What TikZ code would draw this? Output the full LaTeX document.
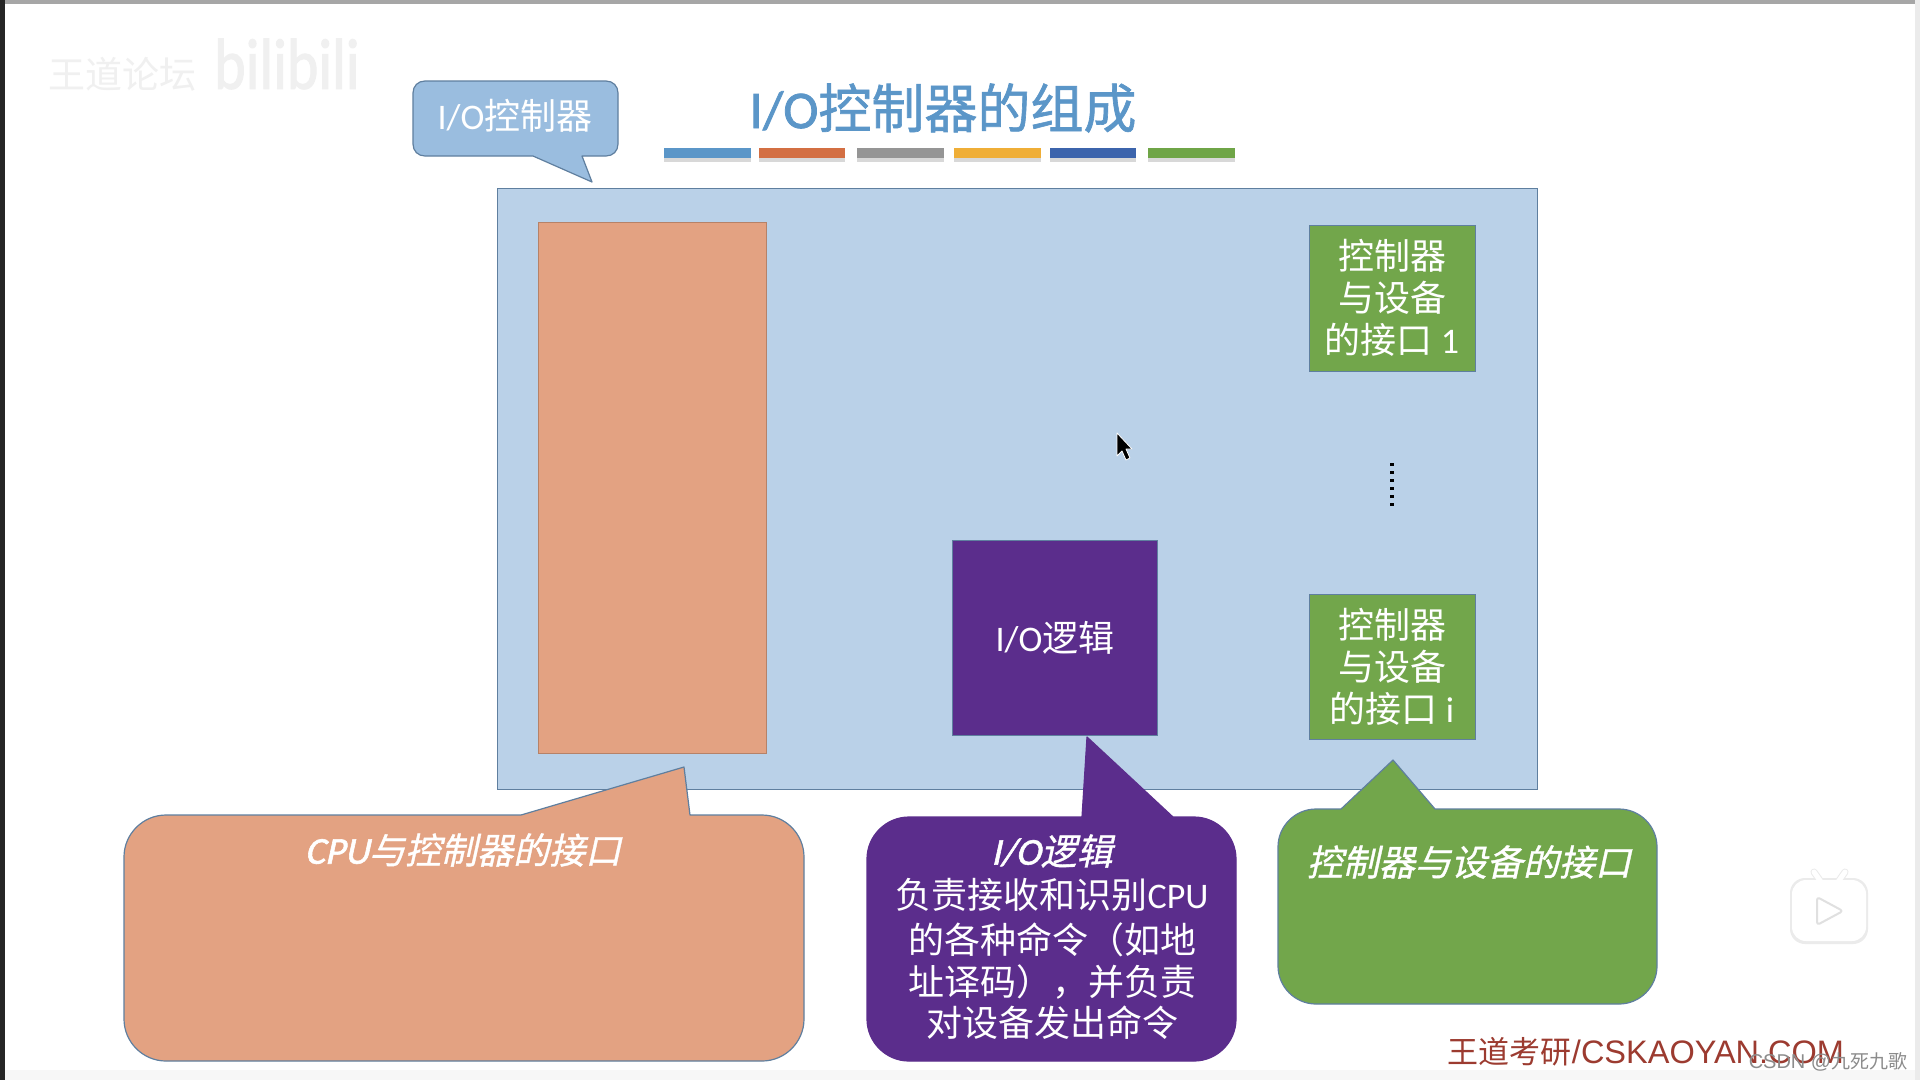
\documentclass[tikz,border=0pt]{standalone}
\usepackage{fontspec}
\setmainfont{Carlito}
\newfontfamily\cjk{Noto Sans CJK SC}
\newfontfamily\cjkt[FakeBold=1.2]{Noto Sans CJK SC}
\newfontfamily\cjki[FakeSlant=0.22,FakeBold=1]{Noto Sans CJK SC}
\newfontfamily\lati[FakeSlant=0.22,FakeBold=1.5]{Carlito}
\newfontfamily\latb[FakeBold=1.5]{Carlito}
\newfontfamily\arial{Liberation Sans}
\usetikzlibrary{shadows}
\definecolor{blueBG}{HTML}{BAD1E8}
\definecolor{blueEdge}{HTML}{5F7F9F}
\definecolor{calloutBlue}{HTML}{9ABDDF}
\definecolor{orangeF}{HTML}{E3A282}
\definecolor{purpleF}{HTML}{5B2D8C}
\definecolor{greenF}{HTML}{72A64B}
\definecolor{titleC}{HTML}{5B96C8}
\definecolor{footC}{HTML}{9C3B30}
\newcommand{\fs}[2]{\fontsize{#1}{#2}\selectfont}
% callout: style, left, top, right, bottom, radius, tail start x, tip, tail end x
\newcommand{\speech}[9]{%
  \pgfmathsetmacro{\rc}{#6}\pgfmathsetmacro{\kc}{0.45*#6}%
  \draw[#1] (#7,#3) -- (#8) -- (#9,#3) -- ({#4-\rc},#3)
    .. controls ({#4-\kc},#3) and (#4,{#3+\kc}) .. (#4,{#3+\rc})
    -- (#4,{#5-\rc})
    .. controls (#4,{#5-\kc}) and ({#4-\kc},#5) .. ({#4-\rc},#5)
    -- ({#2+\rc},#5)
    .. controls ({#2+\kc},#5) and (#2,{#5-\kc}) .. (#2,{#5-\rc})
    -- (#2,{#3+\rc})
    .. controls (#2,{#3+\kc}) and ({#2+\kc},#3) .. ({#2+\rc},#3)
    -- cycle;}
\tikzset{
  x=1pt,y=-1pt,
  every node/.style={inner sep=0pt,outer sep=0pt,text=white,align=center},
  panel/.style={draw=blueEdge,line width=1pt},
  callout/.style={draw=blueEdge,line width=1.2pt,line join=round},
  bar/.style={line width=0pt,drop shadow={shadow xshift=0pt,shadow yshift=-4pt,opacity=0.25,fill=black!60}},
  body/.style={font=\cjk\fs{36}{42}},
}
\begin{document}
\begin{tikzpicture}
\useasboundingbox (0,0) rectangle (1920,1080);
\fill[white] (0,0) rectangle (1920,1080);
\fill[black!3] (0,1070) rectangle (1920,1080);
\fill[black!35] (0,0) rectangle (1920,4);
\fill[black!85] (0,0) rectangle (5,1080);
\fill[black!8] (1915,0) rectangle (1920,1080);

% watermark
\node[text=black!6,font=\cjk\fs{37}{37}] (wm1) at (122,74) {王道论坛};
\node[text=black!6,font=\latb\fs{60}{60},yscale=1.2] (wm2) at (287,64) {bilibili};

% title
\node[text=titleC] (title) at (943,108) {{\latb\fs{53}{53}I/O}{\cjkt\fs{53}{53}控制器的组成}};
\foreach \n/\a/\b/\c in {b1/664/751/5B96C8,b2/759/845/D36F43,b3/857/944/959595,b4/954/1041/EFAE37,b5/1050/1136/3C64AC,b6/1148/1235/6FA547}{
  \definecolor{tmpc}{HTML}{\c}
  \fill[tmpc,bar] (\a,148) rectangle (\b,158);
}

% main panel
\draw[panel,fill=blueBG] (497,188) rectangle (1537,789);
\node[panel,draw=orangeF!80!black,fill=orangeF,minimum width=228pt,minimum height=531pt] (cpuif) at (652,488) {};
\node[panel,draw=blueEdge,fill=greenF,minimum width=166pt,minimum height=146pt,font=\cjk\fs{36}{42}] (dev1) at (1392,298) {控制器\\与设备\\的接口 {\fs{36}{42}\rmfamily 1}};
\node[panel,draw=blueEdge,fill=greenF,minimum width=166pt,minimum height=145pt,font=\cjk\fs{36}{42}] (dev2) at (1392,667) {控制器\\与设备\\的接口 {\fs{36}{42}\rmfamily i}};
\node[panel,draw=blueEdge,fill=purpleF,minimum width=205pt,minimum height=195pt] (logic) at (1055,638) {\raisebox{2pt}{{\rmfamily\fs{36}{42}I/O}{\cjk\fs{36}{42}逻辑}}};
\coordinate (dotA) at (1392,463);
\coordinate (dotB) at (1392,508);
\draw[black,line width=4pt,dash pattern=on 3pt off 5pt] (dotA) -- (dotB);

% cursor
\draw[white,fill=black,line width=0.8pt,line join=round] (1117,433) -- (1117,456) -- (1122,451) -- (1126,460) -- (1130,458) -- (1126,449) -- (1132,449) -- cycle;

% callouts
\coordinate (tipA) at (592,182);
\draw[callout,fill=calloutBlue] (533,156) -- (tipA) -- (582,156) -- (606,156)
  .. controls (613,156) and (618,151) .. (618,144) -- (618,93)
  .. controls (618,86) and (613,81) .. (606,81) -- (425,81)
  .. controls (418,81) and (413,86) .. (413,93) -- (413,144)
  .. controls (413,151) and (418,156) .. (425,156) -- cycle;
\node[font=\fs{36}{36}] (ctrl) at (515,116) {{\rmfamily I/O}{\cjk 控制器}};

\coordinate (tipB) at (684,767);
\speech{callout,fill=orangeF}{124}{815}{804}{1061}{42}{521}{tipB}{690}
\node (cpuTxt) at (463,850) {{\lati\fs{38}{38}CPU}{\cjki\fs{36}{38}与控制器的接口}};

\coordinate (tipC) at (1087,737);
\speech{callout,draw=purpleF,fill=purpleF}{867}{817}{1236}{1061}{42}{1082}{tipC}{1173}
\node (logicHead) at (1052,851) {{\lati\fs{38}{38}I/O}{\cjki\fs{36}{38}逻辑}};
\node[body] (logicL1) at (1052,895) {负责接收和识别{\rmfamily CPU}};
\node[body] (logicL2) at (1052,940) {的各种命令（如地};
\node[body] (logicL3) at (1052,982) {址译码），并负责};
\node[body] (logicL4) at (1052,1023) {对设备发出命令};

\coordinate (tipD) at (1393,760);
\speech{callout,fill=greenF}{1278}{809}{1657}{1004}{38}{1341}{tipD}{1435}
\node[font=\cjki\fs{36}{36}] (devTxt) at (1469,862) {控制器与设备的接口};

% footer
\node[text=footC] (foot) at (1646,1052) {{\cjk\fs{31}{31}王道考研}{\arial\fs{32.5}{32.5}/CSKAOYAN.COM}};
\node[text=black!45] (csdn) at (1828,1062) {{\arial\fs{20}{20}CSDN @}{\cjk\fs{19}{20}九死九歌}};

% play icon
\draw[black!8,line width=7pt,line cap=round] (1814,872) -- (1821,882);
\draw[black!8,line width=7pt,line cap=round] (1845,872) -- (1838,882);
\fill[black!8,rounded corners=15pt] (1790,878) rectangle (1868,944);
\draw[white,line width=5pt,line cap=round] (1814,872) -- (1821,882);
\draw[white,line width=5pt,line cap=round] (1845,872) -- (1838,882);
\fill[white,rounded corners=14pt] (1792,880) rectangle (1866,941);
\draw[black!12,fill=white,line width=2pt,line join=round,rounded corners=3pt] (1817,897) -- (1843,911) -- (1817,925) -- cycle;
\end{tikzpicture}
\end{document}
